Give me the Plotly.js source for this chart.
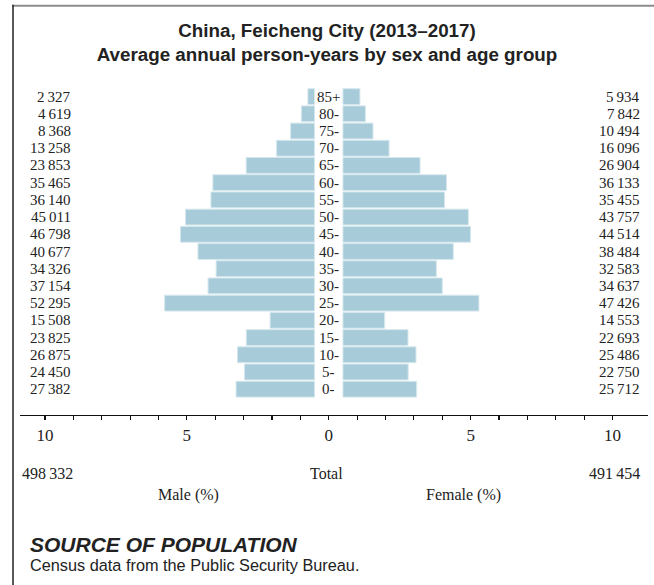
<!DOCTYPE html>
<html>
<head>
<meta charset="utf-8">
<script src="https://cdn.plot.ly/plotly-3.0.1.min.js"></script>
<style>html,body{margin:0;padding:0;background:#fff;}#chart{width:654px;height:585px;}</style>
</head>
<body>
<div id="chart"></div>
<script>
// Age groups, bottom to top
const ageGroups = ['0-','5-','10-','15-','20-','25-','30-','35-','40-','45-','50-','55-','60-','65-','70-','75-','80-','85+'];
// Average annual person-years, male
const malePersonYears = [27382, 24450, 26875, 23825, 15508, 52295, 37154, 34326, 40677, 46798, 45011, 36140, 35465, 23853, 13258, 8368, 4619, 2327];
// Average annual person-years, female
const femalePersonYears = [25712, 22750, 25486, 22693, 14553, 47426, 34637, 32583, 38484, 44514, 43757, 35455, 36133, 26904, 16096, 10494, 7842, 5934];
// Totals
const maleTotal = 498332;
const femaleTotal = 491454;
// Axis ticks
const tickValues = [-10,-9,-8,-7,-6,-5,-4,-3,-2,-1,0,1,2,3,4,5,6,7,8,9,10];
const tickLabels = ['10','','','','','5','','','','','0','','','','','5','','','','','10'];

const grand = maleTotal + femaleTotal;
const malePct = malePersonYears.map(v => v / grand * 100);
const femalePct = femalePersonYears.map(v => v / grand * 100);
const fmt = n => String(n).replace(/\B(?=(\d{3})+(?!\d))/g, '\u2009');

const SERIF = 'Liberation Serif, Times New Roman, serif';
const SANS = 'Liberation Sans, Arial, sans-serif';
const INK = '#222';
const BAR = '#a7cbd8';
const GAP = 0.5;
const ROWFONT = 15;

const traces = [
  {type:'bar', orientation:'h', y: ageGroups, x: malePct.map(v => -v), base: -GAP,
   marker:{color: BAR, line:{color:'#d6e8ee', width:1}}, name:'Male', hoverinfo:'skip'},
  {type:'bar', orientation:'h', y: ageGroups, x: femalePct, base: GAP,
   marker:{color: BAR, line:{color:'#d6e8ee', width:1}}, name:'Female', hoverinfo:'skip'}
];

const ann = [];
ageGroups.forEach((a, i) => {
  ann.push({xref:'x', yref:'y', x: 0, y: a, text: a, showarrow:false, xanchor:'center', borderpad:0,
            font:{family: SERIF, size:ROWFONT, color: INK}});
  ann.push({xref:'x', yref:'y', x: -9.05, y: a, text: fmt(malePersonYears[i]), showarrow:false, xanchor:'right', borderpad:0,
            font:{family: SERIF, size:ROWFONT, color: INK}});
  ann.push({xref:'x', yref:'y', x: 11.0, y: a, text: fmt(femalePersonYears[i]), showarrow:false, xanchor:'right', borderpad:0,
            font:{family: SERIF, size:ROWFONT, color: INK}});
});
// px -> paper helpers (plot area: x 20..648, y 88.4..415.5)
const PX = x => (x - 20) / 628;
const PY = y => (415.5 - y) / 327.1;
ann.push({xref:'paper', yref:'paper', x: PX(75), y: PY(474), text: fmt(maleTotal), showarrow:false, xanchor:'right', yanchor:'middle', font:{family:SERIF, size:16, color:INK}});
ann.push({xref:'paper', yref:'paper', x: PX(326), y: PY(474), text: 'Total', showarrow:false, xanchor:'center', yanchor:'middle', font:{family:SERIF, size:16, color:INK}});
ann.push({xref:'paper', yref:'paper', x: PX(642), y: PY(474), text: fmt(femaleTotal), showarrow:false, xanchor:'right', yanchor:'middle', font:{family:SERIF, size:16, color:INK}});
ann.push({xref:'paper', yref:'paper', x: PX(188), y: PY(496), text: 'Male (%)', showarrow:false, xanchor:'center', yanchor:'middle', font:{family:SERIF, size:16, color:INK}});
ann.push({xref:'paper', yref:'paper', x: PX(463), y: PY(496), text: 'Female (%)', showarrow:false, xanchor:'center', yanchor:'middle', font:{family:SERIF, size:16, color:INK}});
ann.push({xref:'paper', yref:'paper', x: PX(28), y: PY(545), text: '<b><i>SOURCE OF POPULATION</i></b>', showarrow:false, xanchor:'left', yanchor:'middle', font:{family:SANS, size:21, color:INK}});
ann.push({xref:'paper', yref:'paper', x: PX(28), y: PY(566), text: 'Census data from the Public Security Bureau.', showarrow:false, xanchor:'left', yanchor:'middle', font:{family:SANS, size:16.3, color:INK}});

const layout = {
  width: 654, height: 585,
  margin: {l:20, r:6, t:88.4, b:169.5, pad:0},
  paper_bgcolor:'#fff', plot_bgcolor:'#fff',
  showlegend:false,
  barmode:'overlay',
  bargap:0.08,
  title:{text:'<b>China, Feicheng City (2013–2017)</b><br><b>Average annual person-years by sex and age group</b>',
         x:0.5, xref:'container', xanchor:'center', y: 1 - 36.5/585, yref:'container', yanchor:'middle',
         font:{family:SANS, size:18.8, color:INK}},
  xaxis:{range:[-10.88, 11.25], tickmode:'array', tickvals: tickValues, ticktext: tickLabels,
         showline:true, linecolor:'#111', linewidth:1.3, ticks:'outside', ticklen:4, tickwidth:1.2, tickcolor:'#111',
         showgrid:false, zeroline:false, fixedrange:true,
         tickfont:{family:SERIF, size:17, color:INK}},
  yaxis:{type:'category', categoryorder:'array', categoryarray: ageGroups, range:[-1.5, 17.5],
         showticklabels:false, showgrid:false, zeroline:false, showline:false, ticks:'', fixedrange:true},
  annotations: ann,
  shapes:[
    {type:'line', xref:'paper', yref:'paper', x0: PX(12), x1: PX(660), y0: PY(6), y1: PY(6), line:{color:'#8c8c8c', width:2}},
    {type:'line', xref:'paper', yref:'paper', x0: PX(13), x1: PX(13), y0: PY(5), y1: PY(590), line:{color:'#222', width:1.5}}
  ]
};

Plotly.newPlot('chart', traces, layout, {displayModeBar:false, staticPlot:true});
</script>
</body>
</html>
